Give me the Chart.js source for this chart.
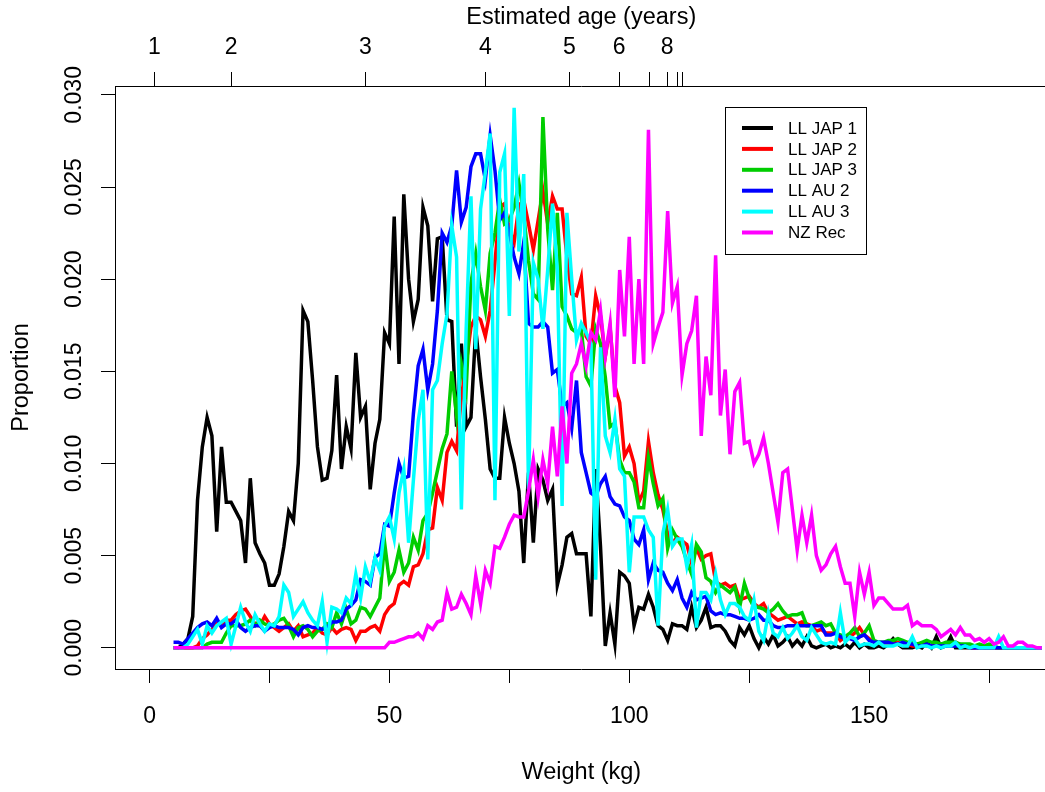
<!DOCTYPE html>
<html>
<head>
<meta charset="utf-8">
<title>Weight frequency by fleet</title>
<script src="https://cdn.jsdelivr.net/npm/chart.js@4/dist/chart.umd.min.js"></script>
<style>
  html, body { margin: 0; padding: 0; background: #fff; overflow: hidden; }
  #wrap { width: 1050px; height: 792px; }
</style>
</head>
<body>
<div id="wrap"><canvas id="chart" width="1050" height="792"></canvas></div>
<script>
// Weight classes (kg), one value per 1 kg bin
const weights = [
  5, 6, 7, 8, 9, 10, 11, 12, 13, 14,
  15, 16, 17, 18, 19, 20, 21, 22, 23, 24,
  25, 26, 27, 28, 29, 30, 31, 32, 33, 34,
  35, 36, 37, 38, 39, 40, 41, 42, 43, 44,
  45, 46, 47, 48, 49, 50, 51, 52, 53, 54,
  55, 56, 57, 58, 59, 60, 61, 62, 63, 64,
  65, 66, 67, 68, 69, 70, 71, 72, 73, 74,
  75, 76, 77, 78, 79, 80, 81, 82, 83, 84,
  85, 86, 87, 88, 89, 90, 91, 92, 93, 94,
  95, 96, 97, 98, 99, 100, 101, 102, 103, 104,
  105, 106, 107, 108, 109, 110, 111, 112, 113, 114,
  115, 116, 117, 118, 119, 120, 121, 122, 123, 124,
  125, 126, 127, 128, 129, 130, 131, 132, 133, 134,
  135, 136, 137, 138, 139, 140, 141, 142, 143, 144,
  145, 146, 147, 148, 149, 150, 151, 152, 153, 154,
  155, 156, 157, 158, 159, 160, 161, 162, 163, 164,
  165, 166, 167, 168, 169, 170, 171, 172, 173, 174,
  175, 176, 177, 178, 179, 180, 181, 182, 183, 184, 185, 186
];

// Proportions per weight class for each fleet
const llJap1 = [
  0, 0, 0.0002, 0.0005, 0.0017, 0.0080, 0.0109, 0.0125, 0.0115, 0.0063,
  0.0109, 0.0079, 0.0079, 0.0074, 0.0069, 0.0046, 0.0092, 0.0057, 0.0051, 0.0046,
  0.0034, 0.0034, 0.0040, 0.0055, 0.0074, 0.0069, 0.0100, 0.0183, 0.0177, 0.0145,
  0.0109, 0.0091, 0.0092, 0.0107, 0.0148, 0.0097, 0.0120, 0.0108, 0.0160, 0.0125,
  0.0131, 0.0086, 0.0111, 0.0124, 0.0171, 0.0165, 0.0234, 0.0154, 0.0246, 0.0200,
  0.0177, 0.0189, 0.0239, 0.0229, 0.0188, 0.0222, 0.0223, 0.0178, 0.0177, 0.0120,
  0.0165, 0.0120, 0.0125, 0.0173, 0.0147, 0.0124, 0.0097, 0.0092, 0.0092, 0.0125,
  0.0111, 0.0100, 0.0085, 0.0046, 0.0095, 0.0057, 0.0097, 0.0091, 0.0080, 0.0086,
  0.0034, 0.0045, 0.0060, 0.0062, 0.0051, 0.0051, 0.0051, 0.0017, 0.0097, 0.0055,
  0.0001, 0.0019, 0.0002, 0.0041, 0.0039, 0.0035, 0.0012, 0.0022, 0.0021, 0.0029,
  0.0022, 0.0012, 0.0010, 0.0004, 0.0013, 0.0012, 0.0012, 0.0010, 0.0022, 0.0011,
  0.0015, 0.0022, 0.0011, 0.0012, 0.0012, 0.0009, 0.0004, 0.0001, 0.0011, 0.0007,
  0.0012, 0.0005, 0.0000, 0.0006, 0.0002, 0.0007, 0.0001, 0.0003, 0.0006, 0.0001,
  0.0004, 0.0001, 0.0006, 0.0001, 0.0000, 0.0001, 0.0002, 0.0000, 0.0001, 0.0000,
  0.0002, 0.0000, 0.0003, 0.0000, 0.0002, 0.0000, 0.0000, 0.0001, 0.0000, 0.0002,
  0.0005, 0.0002, 0.0000, 0.0000, 0.0000, 0.0001, 0.0000, 0.0003, 0.0000, 0.0006,
  0.0000, 0.0001, 0.0006, 0.0000, 0, 0, 0, 0, 0, 0,
  0, 0, 0, 0, 0, 0, 0, 0, 0, 0, 0, 0
];

const llJap2 = [
  0, 0, 0, 0, 0, 0.0001, 0.0005, 0.0007, 0.0010, 0.0013,
  0.0013, 0.0015, 0.0015, 0.0018, 0.0020, 0.0021, 0.0017, 0.0013, 0.0012, 0.0017,
  0.0013, 0.0011, 0.0009, 0.0011, 0.0013, 0.0009, 0.0012, 0.0006, 0.0007, 0.0008,
  0.0011, 0.0008, 0.0007, 0.0011, 0.0008, 0.0010, 0.0011, 0.0010, 0.0004, 0.0009,
  0.0009, 0.0011, 0.0012, 0.0009, 0.0018, 0.0022, 0.0024, 0.0034, 0.0036, 0.0034,
  0.0044, 0.0045, 0.0051, 0.0064, 0.0065, 0.0087, 0.0080, 0.0106, 0.0112, 0.0107,
  0.0136, 0.0154, 0.0174, 0.0180, 0.0178, 0.0169, 0.0183, 0.0209, 0.0239, 0.0241,
  0.0227, 0.0220, 0.0240, 0.0243, 0.0230, 0.0216, 0.0232, 0.0248, 0.0230, 0.0245,
  0.0238, 0.0238, 0.0212, 0.0192, 0.0191, 0.0201, 0.0169, 0.0165, 0.0191, 0.0180,
  0.0158, 0.0174, 0.0142, 0.0133, 0.0104, 0.0109, 0.0100, 0.0079, 0.0085, 0.0112,
  0.0095, 0.0083, 0.0075, 0.0062, 0.0057, 0.0060, 0.0058, 0.0056, 0.0046, 0.0054,
  0.0048, 0.0050, 0.0051, 0.0036, 0.0034, 0.0035, 0.0033, 0.0034, 0.0026, 0.0027,
  0.0028, 0.0024, 0.0022, 0.0024, 0.0019, 0.0017, 0.0015, 0.0016, 0.0017, 0.0015,
  0.0013, 0.0014, 0.0013, 0.0012, 0.0009, 0.0010, 0.0008, 0.0008, 0.0008, 0.0004,
  0.0006, 0.0006, 0.0008, 0.0011, 0.0007, 0.0005, 0.0003, 0.0003, 0.0002, 0.0002,
  0.0002, 0.0003, 0.0001, 0.0002, 0.0001, 0.0001, 0.0002, 0.0001, 0.0001, 0.0001,
  0.0001, 0.0001, 0.0002, 0.0003, 0.0001, 0.0001, 0, 0, 0.0001, 0,
  0, 0, 0, 0, 0, 0, 0, 0, 0, 0, 0, 0
];

const llJap3 = [
  0, 0, 0, 0, 0, 0, 0, 0.0002, 0.0003, 0.0003,
  0.0003, 0.0008, 0.0012, 0.0012, 0.0012, 0.0013, 0.0015, 0.0012, 0.0015, 0.0013,
  0.0012, 0.0013, 0.0015, 0.0016, 0.0012, 0.0006, 0.0011, 0.0012, 0.0010, 0.0006,
  0.0009, 0.0010, 0.0013, 0.0011, 0.0019, 0.0013, 0.0021, 0.0013, 0.0015, 0.0022,
  0.0021, 0.0017, 0.0022, 0.0027, 0.0057, 0.0036, 0.0041, 0.0053, 0.0041, 0.0046,
  0.0060, 0.0053, 0.0069, 0.0073, 0.0084, 0.0096, 0.0108, 0.0116, 0.0150, 0.0126,
  0.0154, 0.0140, 0.0198, 0.0214, 0.0196, 0.0183, 0.0214, 0.0225, 0.0243, 0.0230,
  0.0232, 0.0239, 0.0252, 0.0235, 0.0210, 0.0192, 0.0189, 0.0288, 0.0227, 0.0194,
  0.0236, 0.0185, 0.0180, 0.0173, 0.0171, 0.0173, 0.0147, 0.0142, 0.0173, 0.0165,
  0.0147, 0.0120, 0.0122, 0.0102, 0.0095, 0.0095, 0.0090, 0.0076, 0.0076, 0.0103,
  0.0089, 0.0077, 0.0081, 0.0054, 0.0064, 0.0059, 0.0055, 0.0047, 0.0040, 0.0056,
  0.0052, 0.0038, 0.0036, 0.0030, 0.0034, 0.0032, 0.0030, 0.0033, 0.0022, 0.0035,
  0.0027, 0.0022, 0.0022, 0.0021, 0.0019, 0.0021, 0.0024, 0.0020, 0.0017, 0.0018,
  0.0018, 0.0019, 0.0012, 0.0012, 0.0013, 0.0014, 0.0012, 0.0013, 0.0008, 0.0007,
  0.0006, 0.0008, 0.0011, 0.0006, 0.0008, 0.0012, 0.0004, 0.0003, 0.0003, 0.0004,
  0.0004, 0.0005, 0.0004, 0.0003, 0.0003, 0.0002, 0.0003, 0.0004, 0.0003, 0.0003,
  0.0002, 0.0003, 0.0003, 0.0003, 0.0002, 0.0002, 0.0002, 0.0001, 0.0002, 0.0001,
  0.0002, 0.0001, 0, 0, 0, 0, 0, 0, 0, 0, 0, 0
];

const llAu2 = [
  0.0003, 0.0003, 0.0002, 0.0005, 0.0008, 0.0011, 0.0013, 0.0014, 0.0012, 0.0016,
  0.0011, 0.0013, 0.0013, 0.0015, 0.0011, 0.0009, 0.0011, 0.0012, 0.0012, 0.0009,
  0.0011, 0.0012, 0.0011, 0.0011, 0.0011, 0.0010, 0.0007, 0.0011, 0.0012, 0.0011,
  0.0011, 0.0010, 0.0011, 0.0014, 0.0014, 0.0015, 0.0021, 0.0023, 0.0026, 0.0037,
  0.0036, 0.0034, 0.0049, 0.0051, 0.0067, 0.0066, 0.0084, 0.0100, 0.0092, 0.0093,
  0.0127, 0.0153, 0.0162, 0.0140, 0.0154, 0.0183, 0.0225, 0.0220, 0.0229, 0.0259,
  0.0231, 0.0239, 0.0261, 0.0268, 0.0268, 0.0254, 0.0278, 0.0259, 0.0232, 0.0236,
  0.0225, 0.0212, 0.0203, 0.0220, 0.0176, 0.0174, 0.0174, 0.0177, 0.0174, 0.0149,
  0.0151, 0.0131, 0.0133, 0.0119, 0.0145, 0.0106, 0.0095, 0.0084, 0.0082, 0.0089,
  0.0093, 0.0082, 0.0078, 0.0077, 0.0071, 0.0069, 0.0059, 0.0056, 0.0064, 0.0037,
  0.0046, 0.0042, 0.0041, 0.0035, 0.0031, 0.0037, 0.0027, 0.0022, 0.0030, 0.0026,
  0.0027, 0.0028, 0.0020, 0.0018, 0.0019, 0.0018, 0.0018, 0.0017, 0.0016, 0.0016,
  0.0015, 0.0016, 0.0018, 0.0015, 0.0015, 0.0012, 0.0011, 0.0011, 0.0012, 0.0012,
  0.0012, 0.0012, 0.0012, 0.0012, 0.0012, 0.0012, 0.0007, 0.0007, 0.0008, 0.0006,
  0.0005, 0.0005, 0.0004, 0.0006, 0.0007, 0.0004, 0.0003, 0.0003, 0.0003, 0.0003,
  0.0002, 0.0002, 0.0003, 0.0002, 0.0002, 0.0001, 0.0001, 0.0002, 0.0001, 0.0001,
  0.0001, 0.0001, 0.0001, 0.0001, 0.0001, 0.0001, 0, 0, 0, 0,
  0, 0, 0, 0, 0, 0, 0, 0, 0, 0, 0, 0
];

const llAu3 = [
  0, 0, 0, 0.0002, 0.0006, 0.0010, 0.0002, 0.0012, 0.0008, 0.0012,
  0.0014, 0.0016, 0.0002, 0.0012, 0.0022, 0.0014, 0.0009, 0.0018, 0.0013, 0.0009,
  0.0013, 0.0012, 0.0017, 0.0034, 0.0030, 0.0017, 0.0021, 0.0025, 0.0019, 0.0015,
  0.0012, 0.0025, 0.0003, 0.0022, 0.0021, 0.0019, 0.0027, 0.0024, 0.0040, 0.0027,
  0.0044, 0.0036, 0.0049, 0.0042, 0.0066, 0.0071, 0.0059, 0.0084, 0.0097, 0.0057,
  0.0091, 0.0123, 0.0140, 0.0048, 0.0140, 0.0145, 0.0165, 0.0181, 0.0229, 0.0212,
  0.0075, 0.0173, 0.0245, 0.0162, 0.0238, 0.0258, 0.0279, 0.0080, 0.0258, 0.0268,
  0.0180, 0.0293, 0.0215, 0.0257, 0.0086, 0.0209, 0.0200, 0.0173, 0.0205, 0.0241,
  0.0205, 0.0077, 0.0236, 0.0200, 0.0167, 0.0176, 0.0171, 0.0165, 0.0037, 0.0163,
  0.0115, 0.0106, 0.0124, 0.0097, 0.0093, 0.0041, 0.0071, 0.0071, 0.0071, 0.0064,
  0.0060, 0.0012, 0.0062, 0.0075, 0.0055, 0.0059, 0.0059, 0.0044, 0.0056, 0.0011,
  0.0030, 0.0030, 0.0026, 0.0040, 0.0026, 0.0018, 0.0024, 0.0024, 0.0022, 0.0017,
  0.0015, 0.0026, 0.0009, 0.0004, 0.0019, 0.0008, 0.0006, 0.0011, 0.0005, 0.0008,
  0.0012, 0.0006, 0.0004, 0.0011, 0.0007, 0.0003, 0.0002, 0.0003, 0.0002, 0.0019,
  0.0003, 0.0006, 0.0005, 0.0001, 0.0002, 0.0002, 0.0001, 0.0003, 0.0001, 0.0001,
  0.0001, 0.0002, 0.0001, 0.0001, 0.0006, 0.0000, 0.0001, 0.0001, 0.0000, 0.0001,
  0.0000, 0.0001, 0.0001, 0.0003, 0.0000, 0.0001, 0.0000, 0.0001, 0.0000, 0.0000,
  0, 0, 0.0006, 0, 0, 0, 0, 0, 0, 0, 0, 0
];

const nzRec = [
  0, 0, 0, 0, 0, 0, 0, 0, 0, 0,
  0, 0, 0, 0, 0, 0, 0, 0, 0, 0,
  0, 0, 0, 0, 0, 0, 0, 0, 0, 0,
  0, 0, 0, 0, 0, 0, 0, 0, 0, 0,
  0, 0, 0, 0, 0, 0.0003, 0.0003, 0.0004, 0.0005, 0.0006,
  0.0006, 0.0008, 0.0005, 0.0012, 0.0010, 0.0014, 0.0015, 0.0030, 0.0021, 0.0022,
  0.0029, 0.0024, 0.0018, 0.0039, 0.0024, 0.0042, 0.0035, 0.0055, 0.0054, 0.0060,
  0.0067, 0.0072, 0.0071, 0.0071, 0.0085, 0.0102, 0.0082, 0.0102, 0.0089, 0.0120,
  0.0093, 0.0131, 0.0100, 0.0149, 0.0154, 0.0165, 0.0153, 0.0171, 0.0167, 0.0183,
  0.0158, 0.0176, 0.0136, 0.0205, 0.0169, 0.0223, 0.0154, 0.0200, 0.0154, 0.0281,
  0.0165, 0.0174, 0.0182, 0.0237, 0.0187, 0.0196, 0.0148, 0.0165, 0.0172, 0.0191,
  0.0115, 0.0158, 0.0137, 0.0213, 0.0126, 0.0151, 0.0105, 0.0139, 0.0144, 0.0111,
  0.0112, 0.0100, 0.0105, 0.0114, 0.0100, 0.0084, 0.0068, 0.0095, 0.0097, 0.0075,
  0.0053, 0.0072, 0.0057, 0.0072, 0.0050, 0.0042, 0.0045, 0.0051, 0.0055, 0.0044,
  0.0035, 0.0035, 0.0017, 0.0041, 0.0029, 0.0041, 0.0023, 0.0027, 0.0027, 0.0024,
  0.0021, 0.0021, 0.0021, 0.0023, 0.0012, 0.0014, 0.0012, 0.0012, 0.0012, 0.0010,
  0.0006, 0.0008, 0.0010, 0.0007, 0.0011, 0.0007, 0.0007, 0.0004, 0.0005, 0.0003,
  0.0005, 0.0002, 0.0003, 0.0006, 0.0001, 0.0001, 0.0003, 0.0003, 0.0001, 0.0001, 0, 0
];

const seriesNames = ["LL JAP 1", "LL JAP 2", "LL JAP 3", "LL AU 2", "LL AU 3", "NZ Rec"];
const seriesColors = ["#000000", "#ff0000", "#00cd00", "#0000ff", "#00ffff", "#ff00ff"];
const seriesValues = [llJap1, llJap2, llJap3, llAu2, llAu3, nzRec];

// Axis ticks
const weightTicks = [0, 25, 50, 75, 100, 125, 150, 175];
const yTickValues = [0, 0.005, 0.01, 0.015, 0.02, 0.025, 0.03];
const yTickLabels = ["0.000", "0.005", "0.010", "0.015", "0.020", "0.025", "0.030"];
// Weight at age (top axis), only some ages get a label
const ageWeights = [1.0, 17.0, 45.0, 70.0, 87.5, 97.9, 104.3, 107.9, 110.0, 111.1];
const ageLabels = ["1", "2", "3", "4", "5", "6", "", "8", "", ""];

const fontFamily = '"Liberation Sans", Arial, Helvetica, sans-serif';
const tickSize = 23;
const titleSize = 23.5;
Chart.defaults.color = "#000";
Chart.defaults.font.family = fontFamily;

// Datasets: later fleets drawn on top (magenta last)
const datasets = seriesValues.map(function(vals, s) {
  return {
    label: seriesNames[s],
    data: weights.map(function(w, i) { return { x: w, y: vals[i] }; }),
    borderColor: seriesColors[s],
    borderWidth: 3.5,
    pointRadius: 0,
    tension: 0,
    fill: false,
    order: seriesValues.length - 1 - s,
    xAxisID: "x",
    yAxisID: "y"
  };
});

// Texts that Chart.js cannot place like R does: rotated y labels, titles, legend
const rTextPlugin = {
  id: "rText",
  afterDraw: function(chart) {
    const ctx = chart.ctx;
    const area = chart.chartArea;
    const yScale = chart.scales.y;
    const midX = (area.left + area.right) / 2;
    ctx.save();
    ctx.fillStyle = "#000";
    ctx.textAlign = "center";
    ctx.textBaseline = "middle";

    // y tick labels, written bottom to top
    ctx.font = tickSize + "px " + fontFamily;
    yTickValues.forEach(function(v, i) {
      ctx.save();
      ctx.translate(75, yScale.getPixelForValue(v));
      ctx.rotate(-Math.PI / 2);
      ctx.fillText(yTickLabels[i], 0, 0);
      ctx.restore();
    });

    // axis titles
    ctx.font = titleSize + "px " + fontFamily;
    ctx.fillText("Weight (kg)", midX, 773);
    ctx.fillText("Estimated age (years)", midX, 18);
    ctx.save();
    ctx.translate(22, (area.top + area.bottom) / 2);
    ctx.rotate(-Math.PI / 2);
    ctx.fillText("Proportion", 0, 0);
    ctx.restore();

    // legend box
    ctx.strokeStyle = "#000";
    ctx.lineWidth = 1;
    ctx.strokeRect(725.5, 107.5, 141, 147);
    ctx.font = "17px " + fontFamily;
    ctx.textAlign = "left";
    seriesNames.forEach(function(name, i) {
      const ly = 128 + i * 20.9;
      ctx.beginPath();
      ctx.strokeStyle = seriesColors[i];
      ctx.lineWidth = 4;
      ctx.moveTo(742, ly);
      ctx.lineTo(773, ly);
      ctx.stroke();
      ctx.fillText(name, 788, ly + 1);
    });
    ctx.restore();
  }
};

const ctx = document.getElementById("chart").getContext("2d");
const chart = new Chart(ctx, {
  type: "line",
  data: { datasets: datasets },
  options: {
    responsive: false,
    animation: false,
    events: [],
    layout: { padding: { left: 0, top: 0, right: 2.4, bottom: 0 } },
    plugins: {
      legend: { display: false },
      tooltip: { enabled: false }
    },
    scales: {
      x: {
        type: "linear",
        position: "bottom",
        min: -7.2,
        max: 187.2,
        afterBuildTicks: function(scale) {
          scale.ticks = weightTicks.map(function(v) { return { value: v }; });
        },
        afterFit: function(scale) { scale.height = 123; },
        ticks: {
          autoSkip: false,
          maxRotation: 0,
          padding: 20,
          font: { size: tickSize },
          callback: function(value) { return value % 50 === 0 ? String(value) : ""; }
        },
        grid: { drawOnChartArea: false, drawTicks: true, tickLength: 14, color: "#000" },
        border: { display: true, color: "#000", width: 1 }
      },
      xTop: {
        type: "linear",
        position: "top",
        min: -7.2,
        max: 187.2,
        afterBuildTicks: function(scale) {
          scale.ticks = ageWeights.map(function(v) { return { value: v }; });
        },
        afterFit: function(scale) { scale.height = 86; },
        ticks: {
          autoSkip: false,
          maxRotation: 0,
          padding: 11,
          font: { size: tickSize },
          callback: function(value, index) { return ageLabels[index]; }
        },
        grid: { drawOnChartArea: false, drawTicks: true, tickLength: 14, color: "#000" },
        border: { display: true, color: "#000", width: 1 }
      },
      y: {
        type: "linear",
        position: "left",
        min: -0.00115,
        max: 0.03048,
        afterBuildTicks: function(scale) {
          scale.ticks = yTickValues.map(function(v) { return { value: v }; });
        },
        afterFit: function(scale) { scale.width = 115; },
        ticks: { display: false },
        grid: { drawOnChartArea: false, drawTicks: true, tickLength: 14, color: "#000" },
        border: { display: true, color: "#000", width: 1 }
      }
    }
  },
  plugins: [rTextPlugin]
});
</script>
</body>
</html>
